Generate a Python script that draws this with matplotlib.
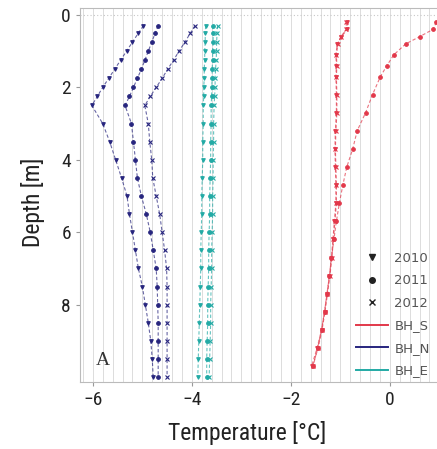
import matplotlib
matplotlib.use("Agg")
import matplotlib.pyplot as plt
from matplotlib.lines import Line2D
from matplotlib import font_manager
import numpy as np

# depths [m]
depth_S = [0.2, 0.4, 0.6, 0.8, 1.1, 1.4, 1.7, 2.2, 2.7, 3.2, 3.7, 4.2, 4.7,
           5.2, 5.7, 6.2, 6.7, 7.2, 7.7, 8.2, 8.7, 9.2, 9.7]
depth_NE = [0.3, 0.5, 0.75, 1.0, 1.25, 1.5, 1.75, 2.0, 2.25, 2.5, 3.0, 3.5, 4.0,
            4.5, 5.0, 5.5, 6.0, 6.5, 7.0, 7.5, 8.0, 8.5, 9.0, 9.5, 10.0]

# BH_S temperatures
s_2010 = [-0.86, -0.86, -0.98, -1.06, -1.09, -1.08, -1.09, -1.08, -1.08, -1.10, -1.11, -1.10,
          -1.09, -1.09, -1.12, -1.15, -1.18, -1.22, -1.27, -1.32, -1.38, -1.47, -1.58]
s_2011 = [0.94, 0.87, 0.60, 0.32, 0.08, -0.06, -0.19, -0.35, -0.49, -0.66, -0.75, -0.87,
          -0.95, -1.02, -1.08, -1.13, -1.18, -1.22, -1.27, -1.32, -1.38, -1.46, -1.55]
s_2012 = [-0.88, -0.88, -0.99, -1.05, -1.08, -1.07, -1.08, -1.07, -1.07, -1.09, -1.10, -1.09,
          -1.08, -1.08, -1.11, -1.14, -1.17, -1.21, -1.26, -1.31, -1.37, -1.45, -1.56]

# BH_N temperatures
n_2010 = [-4.98, -5.08, -5.20, -5.32, -5.44, -5.56, -5.68, -5.80, -5.91, -6.02, -5.80, -5.66,
          -5.54, -5.42, -5.31, -5.26, -5.20, -5.14, -5.08, -5.00, -4.94, -4.88, -4.83, -4.80, -4.78]
n_2011 = [-4.68, -4.74, -4.81, -4.88, -4.95, -5.02, -5.10, -5.18, -5.26, -5.35, -5.22, -5.18,
          -5.14, -5.10, -5.02, -4.92, -4.84, -4.78, -4.72, -4.70, -4.69, -4.68, -4.68, -4.68, -4.68]
n_2012 = [-3.94, -4.03, -4.14, -4.26, -4.37, -4.49, -4.60, -4.72, -4.84, -4.95, -4.88, -4.85,
          -4.81, -4.79, -4.72, -4.65, -4.60, -4.55, -4.51, -4.50, -4.50, -4.50, -4.50, -4.50, -4.50]

# BH_E temperatures
e_2010 = [-3.72, -3.73, -3.73, -3.74, -3.74, -3.75, -3.75, -3.76, -3.76, -3.77, -3.77, -3.78,
          -3.78, -3.79, -3.80, -3.80, -3.81, -3.82, -3.82, -3.83, -3.84, -3.85, -3.86, -3.87, -3.88]
e_2011 = [-3.58, -3.57, -3.57, -3.58, -3.58, -3.59, -3.59, -3.60, -3.60, -3.61, -3.61, -3.62,
          -3.62, -3.63, -3.64, -3.64, -3.65, -3.66, -3.66, -3.67, -3.68, -3.68, -3.69, -3.70, -3.70]
e_2012 = [-3.48, -3.49, -3.50, -3.50, -3.51, -3.52, -3.53, -3.53, -3.54, -3.55, -3.56, -3.56,
          -3.57, -3.57, -3.58, -3.58, -3.59, -3.60, -3.60, -3.61, -3.62, -3.62, -3.63, -3.64, -3.65]

years = ["2010", "2011", "2012"]
markers = ["v", "o", "x"]
holes = ["BH_S", "BH_N", "BH_E"]
colors = ["#e2384a", "#27257e", "#22aaa5"]

series = {
    "BH_S": (depth_S, [s_2010, s_2011, s_2012]),
    "BH_N": (depth_NE, [n_2010, n_2011, n_2012]),
    "BH_E": (depth_NE, [e_2010, e_2011, e_2012]),
}

names = {f.name for f in font_manager.fontManager.ttflist}
narrow = [n for n in ["Roboto Condensed", "Liberation Sans Narrow"] if n in names]
plt.rcParams['font.family'] = narrow + ['DejaVu Sans']
plt.rcParams['font.stretch'] = 'condensed'

fig = plt.figure(figsize=(4.37, 4.49), dpi=100)
ax = fig.add_axes([0.183, 0.149, 0.879, 0.833])

for hole, col in zip(holes, colors):
    d, temps = series[hole]
    for t, m in zip(temps, markers):
        ax.plot(t, d, linestyle=(0, (3, 2)), color=col, lw=0.8, alpha=0.7)
        ax.plot(t, d, linestyle="none", marker=m, color=col, ms=2.6, mew=0.8)

ax.set_xlim(-6.26, 1.5)
ax.set_ylim(10.14, -0.19)
ax.set_xticks([-6, -4, -2, 0])
ax.set_yticks([0, 2, 4, 6, 8])
ax.set_xticks(np.arange(-6.2, 1.5, 0.2), minor=True)
ax.grid(True, which="both", axis="x", color="#dcdcdc", lw=0.7)
ax.axhline(0, color="#c8c8c8", lw=0.8, ls=(0, (1, 2)))
ax.tick_params(which="minor", length=0)
ax.tick_params(which="major", length=3, color="#999999", labelsize=14, labelcolor="#222222")
for sp in ax.spines.values():
    sp.set_color("#bbbbbb")
    sp.set_linewidth(0.8)

ax.set_xlabel("Temperature [°C]", fontsize=17, color="#222222")
ax.xaxis.set_label_coords(0.435, -0.105)
ax.set_ylabel("Depth [m]", fontsize=17, color="#222222")
ax.yaxis.set_label_coords(-0.09, 0.48)

ax.text(-5.95, 9.55, "A", family="Liberation Serif", fontsize=14, color="#333333",
        ha="left", va="center")

handles = [Line2D([], [], linestyle="none", marker=m, color="#222222", ms=4) for m in markers]
handles += [Line2D([], [], color=c, lw=1.4) for c in colors]
ax.legend(handles, years + holes, loc="upper left", bbox_to_anchor=(0.705, 0.362),
          frameon=False, prop={"family": "DejaVu Sans", "size": 9.5, "stretch": "normal"},
          handlelength=2.4, handletextpad=0.5, labelspacing=0.72, labelcolor="#555555",
          borderaxespad=0)

fig.savefig("out.png", dpi=100)
